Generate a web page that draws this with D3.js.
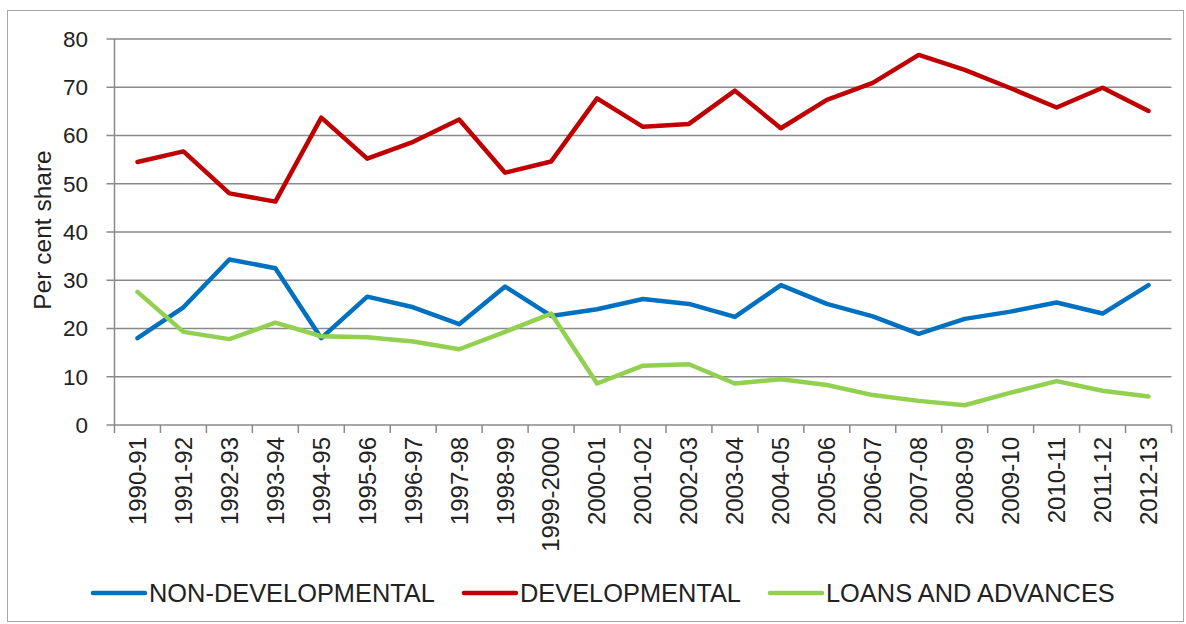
<!DOCTYPE html>
<html>
<head>
<meta charset="utf-8">
<script src="https://cdn.jsdelivr.net/npm/d3@7"></script>
<style>
  body { margin: 0; background: #fff; }
  text { font-family: "Liberation Sans", Arial, sans-serif; fill: #222; }
</style>
</head>
<body>
<script>
const years = ["1990-91", "1991-92", "1992-93", "1993-94", "1994-95", "1995-96", "1996-97", "1997-98",
  "1998-99", "1999-2000", "2000-01", "2001-02", "2002-03", "2003-04", "2004-05", "2005-06",
  "2006-07", "2007-08", "2008-09", "2009-10", "2010-11", "2011-12", "2012-13"];

const nonDevelopmental = [18.0, 24.4, 34.3, 32.5, 18.0, 26.6, 24.4, 20.9, 28.7, 22.6, 24.0, 26.1,
  25.1, 22.4, 29.0, 25.1, 22.5, 18.9, 22.0, 23.5, 25.4, 23.1, 29.0];
const developmental = [54.5, 56.7, 48.0, 46.3, 63.7, 55.2, 58.7, 63.3, 52.3, 54.6, 67.7, 61.8,
  62.4, 69.3, 61.5, 67.4, 70.9, 76.7, 73.6, 69.8, 65.8, 69.9, 65.1];
const loansAndAdvances = [27.6, 19.3, 17.8, 21.2, 18.4, 18.2, 17.3, 15.7, 19.3, 23.1, 8.6, 12.3,
  12.6, 8.6, 9.5, 8.3, 6.2, 5.0, 4.1, 6.7, 9.1, 7.1, 5.9];

const yTicks = [0, 10, 20, 30, 40, 50, 60, 70, 80];

const series = [
  { name: "NON-DEVELOPMENTAL", values: nonDevelopmental, color: "#0070C0" },
  { name: "DEVELOPMENTAL", values: developmental, color: "#C00000" },
  { name: "LOANS AND ADVANCES", values: loansAndAdvances, color: "#92D050" }
];

const width = 1186;
const height = 624;
const plotLeft = 114.5, plotRight = 1171.5, plotTop = 39, plotBottom = 425;

const svg = d3.select("body")
  .append("svg")
  .attr("width", width)
  .attr("height", height);

// outer chart frame
svg.append("rect")
  .attr("x", 7.5)
  .attr("y", 10.5)
  .attr("width", 1176)
  .attr("height", 611)
  .attr("fill", "none")
  .attr("stroke", "#a6a6a6")
  .attr("stroke-width", 1);

const x = d3.scaleBand().domain(years).range([plotLeft, plotRight]);
const y = d3.scaleLinear().domain([0, 80]).range([plotBottom, plotTop]);

// gridlines + y ticks
svg.append("g")
  .selectAll("line")
  .data(yTicks)
  .enter()
  .append("line")
  .attr("x1", plotLeft - 8)
  .attr("x2", plotRight)
  .attr("y1", d => y(d))
  .attr("y2", d => y(d))
  .attr("stroke", "#8a8a8a")
  .attr("stroke-width", 1.5);

svg.append("line")
  .attr("x1", plotLeft).attr("x2", plotLeft)
  .attr("y1", plotTop).attr("y2", plotBottom)
  .attr("stroke", "#8a8a8a")
  .attr("stroke-width", 1.5);

svg.append("g")
  .selectAll("text")
  .data(yTicks)
  .enter()
  .append("text")
  .attr("x", 88)
  .attr("y", d => y(d))
  .attr("dy", "0.35em")
  .attr("text-anchor", "end")
  .attr("font-size", 22.5)
  .text(d => d);

// x ticks at category boundaries
const boundaries = years.map(d => x(d)).concat([plotRight]);
svg.append("g")
  .selectAll("line")
  .data(boundaries)
  .enter()
  .append("line")
  .attr("x1", d => d).attr("x2", d => d)
  .attr("y1", plotBottom).attr("y2", plotBottom + 8)
  .attr("stroke", "#8a8a8a")
  .attr("stroke-width", 1.5);

svg.append("g")
  .selectAll("text")
  .data(years)
  .enter()
  .append("text")
  .attr("transform", d => `translate(${x(d) + x.bandwidth() / 2}, 437) rotate(-90)`)
  .attr("dy", "0.35em")
  .attr("text-anchor", "end")
  .attr("font-size", 24)
  .text(d => d);

svg.append("text")
  .attr("transform", "translate(42, 230) rotate(-90)")
  .attr("dy", "0.35em")
  .attr("text-anchor", "middle")
  .attr("font-size", 24.5)
  .text("Per cent share");

const line = d3.line()
  .x((d, i) => x(years[i]) + x.bandwidth() / 2)
  .y(d => y(d));

svg.append("g")
  .selectAll("path")
  .data(series)
  .enter()
  .append("path")
  .attr("d", d => line(d.values))
  .attr("fill", "none")
  .attr("stroke", d => d.color)
  .attr("stroke-width", 4.5)
  .attr("stroke-linejoin", "round")
  .attr("stroke-linecap", "round");

// legend
let lx = 93;
const ly = 593;
series.forEach(s => {
  svg.append("line")
    .attr("x1", lx).attr("x2", lx + 52)
    .attr("y1", ly).attr("y2", ly)
    .attr("stroke", s.color)
    .attr("stroke-width", 4.5)
    .attr("stroke-linecap", "round");
  const t = svg.append("text")
    .attr("x", lx + 56)
    .attr("y", ly)
    .attr("dy", "0.35em")
    .attr("font-size", 25.4)
    .text(s.name);
  lx = lx + 56 + t.node().getComputedTextLength() + 29;
});
</script>
</body>
</html>
